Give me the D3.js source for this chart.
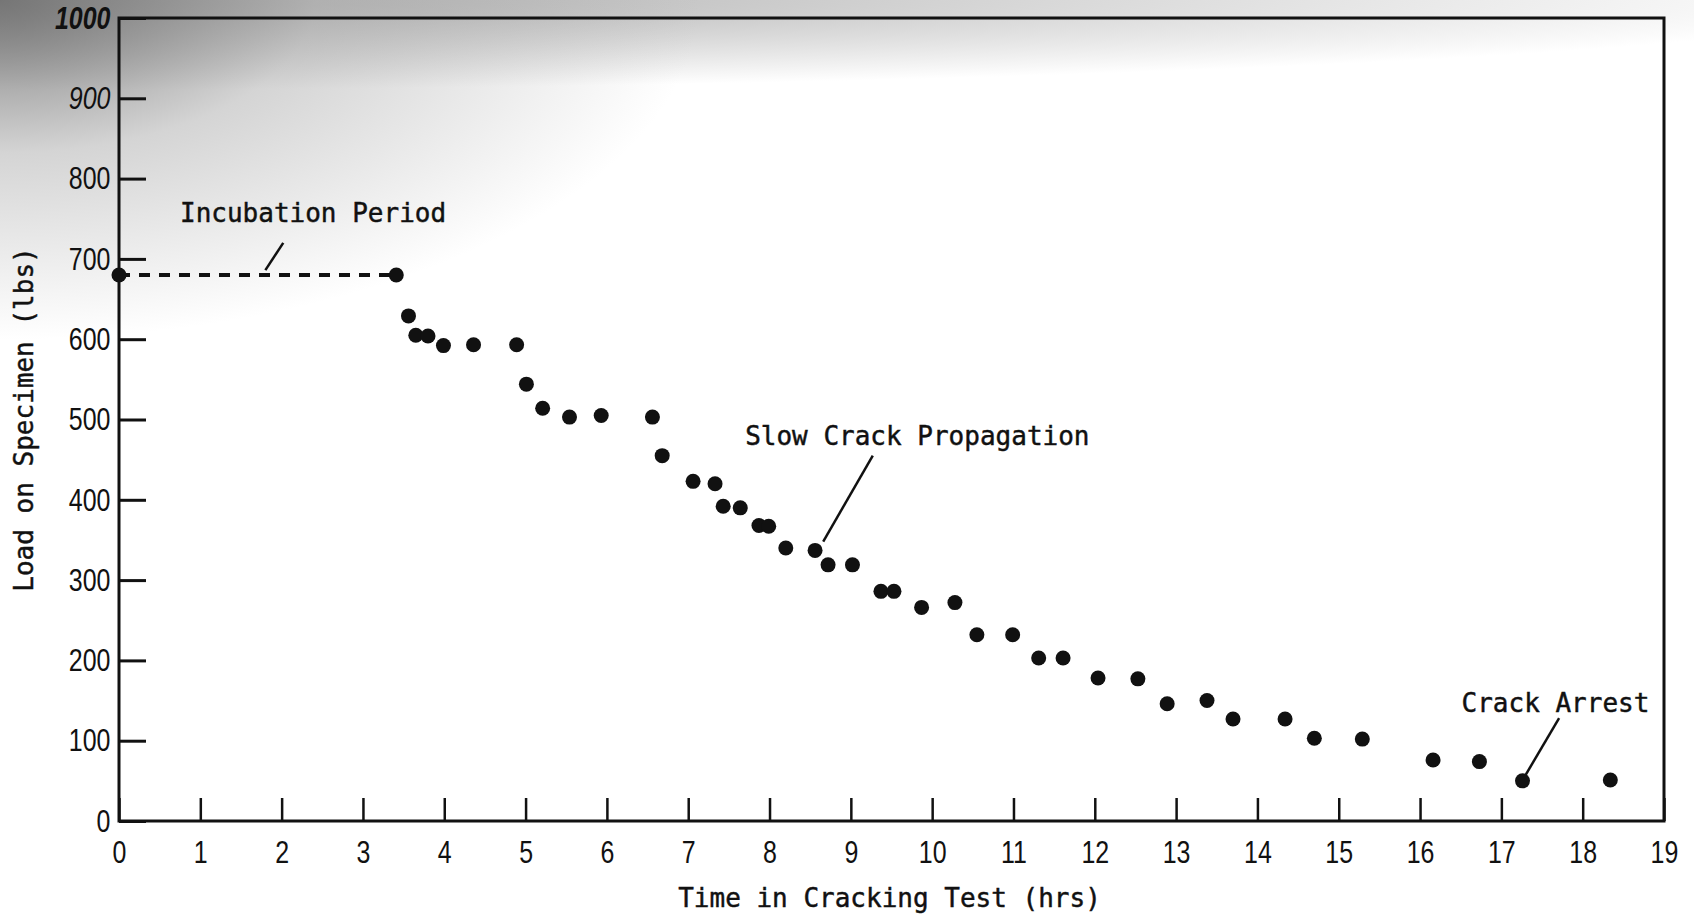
<!DOCTYPE html>
<html>
<head>
<meta charset="utf-8">
<script src="https://cdn.jsdelivr.net/npm/d3@7"></script>
<style>
  html, body { margin: 0; padding: 0; }
  body {
    width: 1694px; height: 917px; overflow: hidden;
    background:
      radial-gradient(ellipse 700px 340px at 0px 0px, rgba(115,115,115,0.95) 0%, rgba(170,170,170,0.5) 45%, rgba(255,255,255,0) 100%),
      radial-gradient(ellipse 1900px 90px at 0px 0px, #a8a8a8 0%, #ffffff 100%);
  }
  svg { display: block; }
  .tick text { fill: #111; }
  .mono { font-family: "DejaVu Sans Mono", monospace; font-size: 26px; fill: #111; stroke: #111; stroke-width: 0.45px; }
</style>
</head>
<body>
<svg id="chart" width="1694" height="917"></svg>
<script>
// ---- data ----
const timeHrs = [0, 3.41, 3.56, 3.65, 3.80, 3.99, 4.36, 4.89, 5.01, 5.21, 5.54, 5.93, 6.56, 6.68,
  7.06, 7.33, 7.43, 7.64, 7.87, 7.99, 8.20, 8.56, 8.72, 9.02, 9.37, 9.53, 9.87, 10.28, 10.55, 10.99,
  11.31, 11.61, 12.04, 12.53, 12.89, 13.38, 13.70, 14.34, 14.70, 15.29, 16.16, 16.73, 17.26, 18.34];
const loadLbs = [680, 680, 629, 605, 604, 592, 593, 593, 544, 514, 503, 505, 503, 455,
  423, 420, 392, 390, 368, 367, 340, 337, 319, 319, 286, 286, 266, 272, 232, 232,
  203, 203, 178, 177, 146, 150, 127, 127, 103, 102, 76, 74, 50, 51];
const xTicks = [0,1,2,3,4,5,6,7,8,9,10,11,12,13,14,15,16,17,18,19];
const yTicks = [0,100,200,300,400,500,600,700,800,900,1000];
const xTitle = "Time in Cracking Test (hrs)";
const yTitle = "Load on Specimen (lbs)";
const annoText = ["Incubation Period", "Slow Crack Propagation", "Crack Arrest"];
const annoAt   = [[0.75, 757], [7.70, 480], [16.51, 147]];          // text start (hrs, lbs)
const annoLine = [[2.02, 720, 1.80, 686], [9.27, 455, 8.66, 348], [17.71, 128, 17.29, 56]];

// ---- layout ----
const svg = d3.select("#chart");
const x = d3.scaleLinear().domain([0, 19]).range([119, 1664]);
const y = d3.scaleLinear().domain([0, 1000]).range([821, 18]);
const tickFont = '"Liberation Sans", Arial, sans-serif';

// frame
svg.append("rect")
  .attr("x", x(0)).attr("y", y(1000))
  .attr("width", x(19) - x(0)).attr("height", y(0) - y(1000))
  .attr("fill", "none").attr("stroke", "#111").attr("stroke-width", 3);

// x axis
const gx = svg.append("g").attr("transform", `translate(0,${y(0)})`)
  .call(d3.axisBottom(x).tickValues(xTicks).tickFormat(d3.format("d"))
    .tickSizeInner(-23).tickSizeOuter(0).tickPadding(19));
gx.select(".domain").remove();
gx.selectAll(".tick line").attr("stroke", "#111").attr("stroke-width", 2.5);
gx.selectAll(".tick text").style("font-family", tickFont).style("font-size", "32px")
  .attr("transform", "scale(0.78,1)");

// y axis
const gy = svg.append("g").attr("transform", `translate(${x(0)},0)`)
  .call(d3.axisLeft(y).tickValues(yTicks).tickFormat(d3.format("d"))
    .tickSizeInner(-27).tickSizeOuter(0).tickPadding(11));
gy.select(".domain").remove();
gy.selectAll(".tick line").attr("stroke", "#111").attr("stroke-width", 3);
gy.selectAll(".tick text").style("font-family", tickFont).style("font-size", "32px")
  .attr("transform", "scale(0.78,1)")
  .style("font-style", d => d >= 900 ? "italic" : "normal")
  .style("font-weight", d => d === 1000 ? "bold" : "normal");

// axis titles
svg.append("text").attr("class", "mono")
  .attr("x", (x(0) + x(19)) / 2 - 2).attr("y", 898).attr("dy", "0.35em")
  .attr("text-anchor", "middle").text(xTitle);
svg.append("text").attr("class", "mono")
  .attr("transform", `translate(24,${(y(0) + y(1000)) / 2})rotate(-90)`)
  .attr("dy", "0.35em").attr("text-anchor", "middle").text(yTitle);

// incubation dashed line (first two points)
svg.append("line")
  .attr("x1", x(timeHrs[0])).attr("y1", y(loadLbs[0]))
  .attr("x2", x(timeHrs[1])).attr("y2", y(loadLbs[1]))
  .attr("stroke", "#111").attr("stroke-width", 4).attr("stroke-dasharray", "11,9");

// points
svg.append("g").selectAll("circle")
  .data(timeHrs.map((t, i) => [t, loadLbs[i]]))
  .join("circle")
  .attr("cx", d => x(d[0])).attr("cy", d => y(d[1])).attr("r", 7.5)
  .attr("fill", "#111");

// annotations
annoText.forEach((txt, i) => {
  svg.append("text").attr("class", "mono")
    .attr("x", x(annoAt[i][0])).attr("y", y(annoAt[i][1])).attr("dy", "0.35em")
    .text(txt);
  const l = annoLine[i];
  svg.append("line")
    .attr("x1", x(l[0])).attr("y1", y(l[1])).attr("x2", x(l[2])).attr("y2", y(l[3]))
    .attr("stroke", "#111").attr("stroke-width", 2.5);
});
</script>
</body>
</html>
